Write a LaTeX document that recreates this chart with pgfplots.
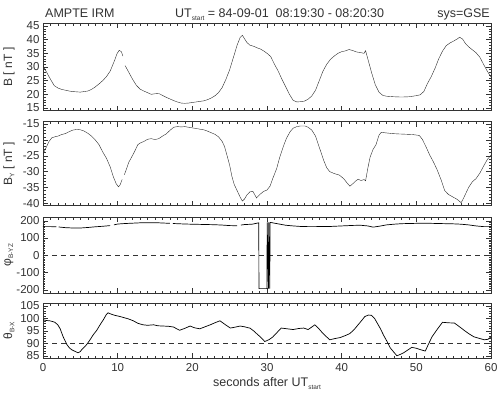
\documentclass[border=0pt]{standalone}
\usepackage{pgfplots}
\pgfplotsset{compat=1.18}
\usepackage{fontspec}
\setmainfont{Liberation Sans}
\definecolor{ink}{HTML}{333333}
\definecolor{curve}{HTML}{2A2A2A}
\newcommand\sub[1]{\raisebox{-0.35ex}{\fontsize{6.5}{6.5}\selectfont #1}}
\pgfplotsset{
 panel/.style={
   scale only axis, width=448pt, xmin=0, xmax=60,
   xtick={0,10,...,60}, minor x tick num=9,
   tick align=inside, major tick length=5pt, minor tick length=2.5pt,
   axis line style={ink, line width=0.6pt},
   every tick/.style={ink, line width=0.5pt},
   ticklabel style={font=\fontsize{11.5}{11.5}\selectfont, text=ink},
   /pgf/number format/assume math mode=true,
   /pgf/number format/.cd, 1000 sep={}, /pgfplots/.cd,
   unbounded coords=jump,
   every axis y label/.style={at={(axis description cs:-0.076,0.5)}, rotate=90, anchor=center, font=\fontsize{12}{12}\selectfont, text=ink},
   cycle list={{curve, line width=0.7pt, mark=none}},
 }
}
\begin{document}
\begin{tikzpicture}
\useasboundingbox (0,0) rectangle (500pt,393pt);
% ---------- Panel 1: |B|
\begin{axis}[panel, at={(43pt,282.3pt)}, anchor=south west, height=87.4pt,
  ymin=14, ymax=46, ytick={15,20,...,45}, minor y tick num=4, xticklabels={},
  ylabel={B [ nT ]}]
\addplot coordinates {
(0,30.5)(0.5,28)(1.0,25.5)(1.5,23.2)(2.0,22.3)(2.5,21.8)(3.0,21.5)(3.5,21.2)(4.0,21.0)(4.5,20.9)
(5.0,20.8)(5.5,21.0)(6.0,21.2)(6.5,21.8)(7.0,22.7)(7.5,23.8)(8.0,25.0)(8.5,26.5)(9.0,28.5)(9.3,30.5)
(9.6,32.5)(9.9,34.8)(10.2,36.1)(10.5,35.6)(10.7,34.0)(10.8,nan)(11.0,30.5)(11.5,28.0)(12.0,25.5)(12.5,23.3)
(13.0,21.9)(13.5,21.2)(14.0,20.6)(14.5,20.0)(15.0,20.2)(15.5,20.3)(16.0,19.6)(16.5,18.9)(17.0,18.3)(17.5,17.7)
(18.0,17.2)(18.5,16.8)(19.0,16.7)(19.5,16.8)(20.0,17.0)(20.5,17.2)(21.0,17.4)(21.5,17.6)(22.0,18.0)(22.5,18.6)
(23.0,19.4)(23.5,20.6)(24.0,22.5)(24.5,25.5)(25.0,29.0)(25.5,33.5)(26.0,38.0)(26.4,40.8)(26.7,41.6)(27.0,40.3)
(27.3,39.0)(27.7,38.0)(28.2,37.6)(28.7,37.0)(29.1,36.6)(29.6,35.8)(30.1,34.8)(30.5,33.8)(31.0,31.0)(31.5,28.5)
(32.0,25.5)(32.5,22.8)(33.0,20.0)(33.5,17.8)(34.0,17.2)(34.5,17.3)(35.0,17.5)(35.5,18.2)(36.0,19.4)(36.5,21.5)
(37.0,25.0)(37.5,28.5)(38.0,31.0)(38.5,32.8)(39.0,34.0)(39.5,35.0)(40.0,35.6)(40.5,35.9)(41.0,36.4)(41.5,36.0)
(42.0,35.5)(42.5,35.3)(43.0,35.0)(43.2,36.0)(43.5,33.0)(44.0,28.0)(44.5,23.5)(45.0,20.8)(45.5,19.6)(46.0,19.3)
(47.0,19.1)(48.0,19.0)(49.0,19.1)(50.0,19.5)(50.5,19.8)(51.0,21.0)(51.5,24.0)(52.0,26.5)(52.5,29.5)(53.0,33.0)
(53.5,35.8)(54.0,37.8)(54.5,38.8)(55.0,39.5)(55.5,40.3)(55.8,40.9)(56.2,40.2)(56.6,38.5)(57.0,37.4)(57.5,36.3)
(58.0,35.2)(58.5,33.6)(59.0,31.0)(59.5,28.5)(60.0,26.3)};
\end{axis}
% ---------- Panel 2: By
\begin{axis}[panel, at={(43pt,187.3pt)}, anchor=south west, height=84pt,
  ymin=-40.75, ymax=-14.25, ytick={-40,-35,...,-15}, minor y tick num=4, xticklabels={},
  ylabel={B\sub{Y} [ nT ]}]
\addplot coordinates {
(0,-24.5)(0.4,-22.5)(0.8,-20.5)(1.2,-19.3)(1.6,-19.0)(2.0,-18.8)(2.5,-18.3)(3.0,-18.0)(3.5,-17.4)(4.0,-16.9)
(4.5,-16.7)(5.0,-16.8)(5.5,-17.2)(6.0,-17.9)(6.5,-18.8)(7.0,-20.0)(7.5,-21.5)(8.0,-23.8)(8.5,-25.8)(9.0,-28.5)
(9.4,-31.5)(9.8,-33.8)(10.1,-34.8)(10.3,-34.3)(10.6,-32.5)(10.7,nan)(10.9,-31.0)(11.2,-29.0)(11.5,-27.0)(11.9,-25.3)
(12.3,-23.5)(12.7,-21.5)(13.0,-21.0)(13.5,-20.5)(14.0,-19.8)(14.5,-19.6)(15.0,-19.9)(15.5,-19.6)(16.0,-18.8)(16.5,-18.1)
(17.0,-17.0)(17.5,-16.0)(18.0,-15.8)(18.5,-15.9)(19.0,-15.8)(19.5,-16.0)(20.0,-16.2)(20.5,-16.4)(21.0,-16.6)(21.5,-16.8)
(22.0,-17.2)(22.5,-17.7)(23.0,-18.2)(23.5,-19.0)(24.0,-20.5)(24.3,-22.0)(24.6,-24.5)(25.0,-28.0)(25.3,-31.5)(25.6,-34.0)
(26.0,-36.0)(26.4,-38.0)(26.7,-39.3)(27.0,-38.6)(27.3,-37.4)(27.7,-36.4)(28.1,-36.2)(28.6,-38.3)(29.0,-37.3)(29.5,-36.3)
(30.0,-35.8)(30.4,-34.6)(30.8,-32.0)(31.3,-29.0)(31.7,-25.5)(32.2,-22.0)(32.6,-19.5)(33.1,-17.4)(33.5,-16.3)(34.0,-15.8)
(34.5,-15.6)(35.1,-15.6)(35.5,-16.0)(36.0,-16.9)(36.5,-18.8)(37.1,-23.0)(37.6,-26.5)(38.0,-28.8)(38.4,-30.0)(39.0,-30.6)
(39.7,-31.1)(40.3,-32.3)(40.7,-33.5)(41.1,-34.6)(41.5,-33.8)(41.8,-33.1)(42.2,-32.4)(42.6,-32.8)(43.0,-32.5)(43.2,-32.9)
(43.5,-29.0)(43.8,-25.5)(44.2,-23.0)(44.6,-21.5)(45.0,-18.5)(45.3,-17.6)(46.0,-17.8)(46.8,-18.0)(47.5,-18.1)(48.5,-18.2)
(49.5,-18.3)(50.4,-18.6)(50.8,-19.8)(51.3,-22.2)(51.8,-24.8)(52.3,-27.0)(52.8,-29.5)(53.3,-32.5)(53.8,-36.0)(54.3,-37.2)
(54.9,-38.0)(55.5,-38.8)(56.0,-39.8)(56.3,-38.5)(56.6,-37.0)(57.0,-35.0)(57.5,-33.2)(58.0,-32.2)(58.5,-30.5)(59.0,-28.3)
(59.5,-26.2)(60.0,-24.8)};
\end{axis}
% ---------- Panel 3: phi
\begin{axis}[panel, at={(43pt,99.7pt)}, anchor=south west, height=76pt,
  ymin=-220, ymax=220, ytick={-200,-100,...,200}, minor y tick num=9, xticklabels={},
  ylabel={φ\sub{B-YZ}}]
\addplot[ink, line width=0.6pt, dash pattern=on 5pt off 4pt] coordinates {(0,0)(60,0)};
\addplot coordinates {
(0,166)(1,166)(1.8,165)(1.9,nan)(2.1,164)(3,160)(4,158)(5,158)(6,161)(7,165)(8,168)(9,172)(9.3,nan)(9.5,176)
(10,181)(11,184)(12,186)(13,188)(14,189)(15,189)(16,187)(17,185)(17.2,nan)(17.4,184)(18,183)(19,181)(20,180)
(21,179)(22,178)(23,177)(24,175)(25,172)(26,171)(26.2,nan)(26.5,175)(27,178)(28,180)(28.9,188)
(28.92,-193)(30.0,-193)(30.02,190)(30.2,-193)(30.22,190)(30.38,-193)(30.4,190)
(30.5,190)(31.5,182)(32.5,174)(33.5,170)(34.5,167)(35.5,166)(36.5,166)(37.5,167)(38.5,167)(39.5,169)
(40.5,171)(41.5,173)(42.5,174)(43.5,170)(44.2,163)(45,168)(46,176)(47,180)(48,183)(49,184)(50,185)
(51,185)(52,185)(53,184)(54,183)(55,182)(56,180)(57,176)(58,170)(59,166)(60,166)};
\end{axis}
% ---------- Panel 4: theta
\begin{axis}[panel, at={(43pt,34.7pt)}, anchor=south west, height=55pt,
  ymin=84, ymax=106, ytick={85,90,...,105}, minor y tick num=4,
  xticklabel style={yshift=-2pt},
  ylabel={θ\sub{B-X}}]
\addplot[ink, line width=0.6pt, dash pattern=on 5pt off 4pt] coordinates {(0,90)(60,90)};
\addplot coordinates {
(0,99.4)(0.5,99.1)(0.9,99.0)(1.3,98.7)(1.6,98.4)(2.0,97.3)(2.3,95.8)(2.7,92.6)(3.2,89.5)(3.5,88.3)
(3.8,87.5)(4.2,86.9)(4.7,86.2)(5.0,86.7)(5.2,87.5)(5.5,88.4)(5.85,89.5)(6.3,91.4)(6.7,93.3)(7.2,95.2)
(7.6,97.2)(8.1,99.5)(8.5,101.6)(8.7,102.2)(9.1,101.7)(9.6,101.2)(10.2,100.8)(10.8,100.3)(11.4,99.8)(12.1,99.0)
(12.7,98.0)(13.4,97.4)(14.0,97.2)(14.8,97.4)(15.4,97.0)(16.1,96.9)(16.8,96.8)(17.5,96.5)(17.9,95.8)(18.3,95.2)
(19.0,96.0)(19.7,96.9)(20.3,96.2)(21.0,95.8)(21.7,96.6)(22.4,97.4)(23.1,98.3)(23.7,99.0)(24.4,97.5)(25.1,96.1)
(25.8,96.5)(26.4,96.9)(27.0,96.6)(27.5,96.2)(27.7,96.1)(28.2,95.0)(28.6,93.9)(29.2,92.3)(29.7,90.7)(30.3,91.5)
(30.8,92.6)(31.4,94.5)(31.9,96.1)(32.7,95.8)(33.5,95.5)(34.2,95.9)(34.9,96.1)(35.5,95.5)(36.0,96.5)(36.4,97.4)
(36.9,96.0)(37.3,94.6)(37.9,92.8)(38.4,91.4)(39.1,91.9)(39.8,92.3)(40.5,93.1)(41.1,93.9)(41.7,95.6)(42.2,97.4)
(42.7,99.2)(43.1,100.7)(43.6,101.3)(44.0,101.2)(44.4,100.0)(44.7,98.4)(45.2,95.8)(45.6,93.3)(46.1,90.6)(46.5,88.2)
(47.0,86.4)(47.4,85.0)(47.8,85.5)(48.3,86.2)(48.9,87.4)(49.4,88.4)(50.0,88.0)(50.5,87.5)(51.2,86.9)(51.6,89.5)
(52.1,92.6)(52.8,95.6)(53.5,98.4)(54.3,98.2)(55.1,98.1)(55.7,96.8)(56.4,95.2)(57.0,93.9)(57.7,92.6)(58.4,92.0)
(59.1,91.4)(59.6,91.6)(60.0,92.6)};
\end{axis}
% ---------- texts
\node[anchor=base west, text=ink, font=\fontsize{12.5}{12.5}\selectfont, inner sep=0] at (45pt,375pt) {AMPTE IRM};
\node[anchor=base west, text=ink, font=\fontsize{12.5}{12.5}\selectfont, inner sep=0] at (175pt,375pt) {UT\sub{start} = 84-09-01\ \ 08:19:30 - 08:20:30};
\node[anchor=base east, text=ink, font=\fontsize{12.5}{12.5}\selectfont, inner sep=0] at (490pt,375pt) {sys=GSE};
\node[anchor=base, text=ink, font=\fontsize{12.5}{12.5}\selectfont, inner sep=0] at (267pt,6pt) {seconds after UT\sub{start}};
\end{tikzpicture}
\end{document}
